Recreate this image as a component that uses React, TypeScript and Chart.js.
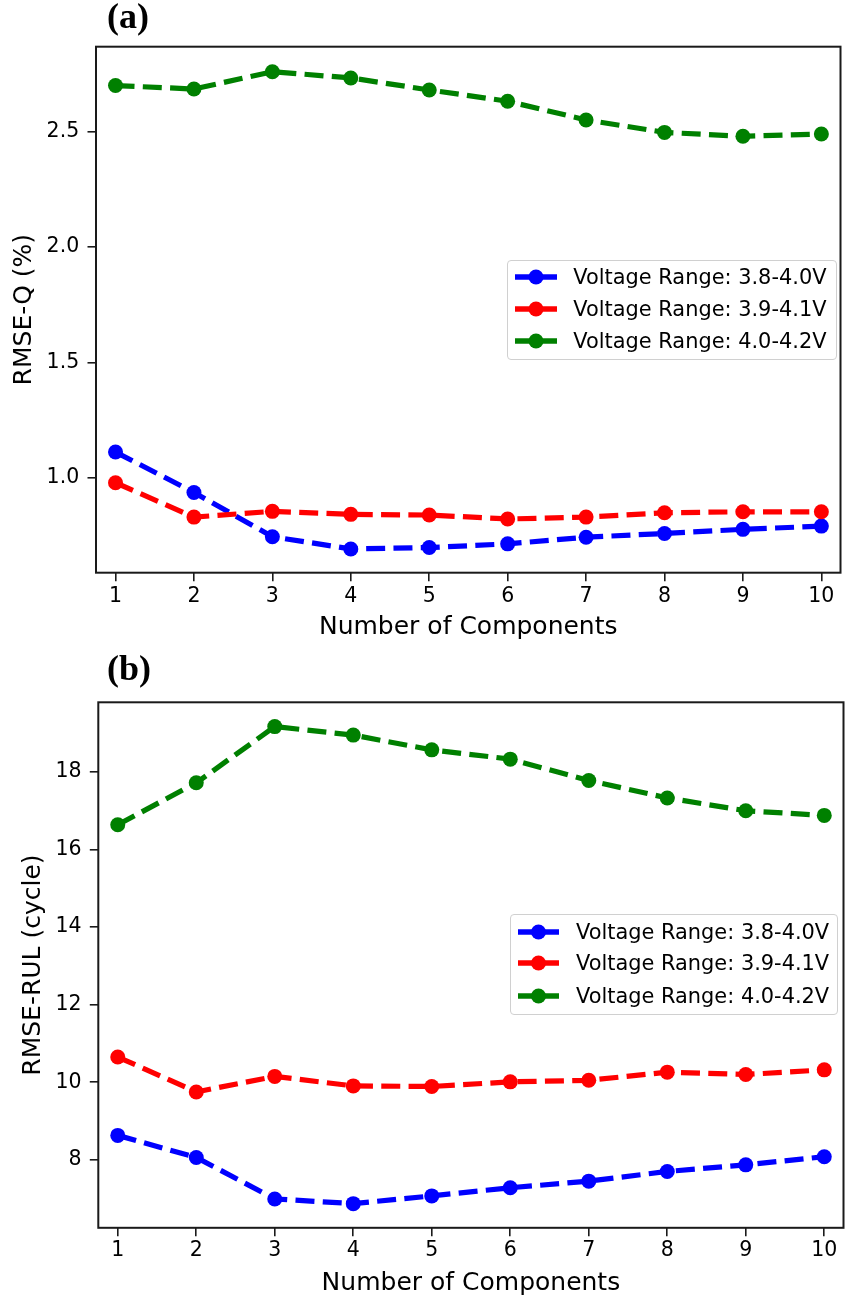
import React, { useEffect, useRef } from "react";
import { Chart, registerables } from "chart.js";

Chart.register(...registerables);

// ---------- data ----------
const components = [1, 2, 3, 4, 5, 6, 7, 8, 9, 10];
const seriesLabels = [
  "Voltage Range: 3.8-4.0V",
  "Voltage Range: 3.9-4.1V",
  "Voltage Range: 4.0-4.2V",
];
const seriesColors = ["#0000ff", "#ff0000", "#008000"];

const rmseQ_38_40 = [1.111, 0.936, 0.744, 0.691, 0.697, 0.713, 0.742, 0.758, 0.776, 0.79];
const rmseQ_39_41 = [0.978, 0.829, 0.854, 0.841, 0.838, 0.821, 0.829, 0.848, 0.852, 0.852];
const rmseQ_40_42 = [2.7, 2.685, 2.76, 2.733, 2.681, 2.632, 2.551, 2.497, 2.48, 2.49];

const rmseRUL_38_40 = [8.63, 8.06, 6.99, 6.87, 7.07, 7.28, 7.45, 7.7, 7.87, 8.08];
const rmseRUL_39_41 = [10.65, 9.75, 10.15, 9.905, 9.89, 10.01, 10.05, 10.26, 10.2, 10.32];
const rmseRUL_40_42 = [16.64, 17.72, 19.17, 18.95, 18.57, 18.33, 17.78, 17.33, 17.0, 16.88];

const xTicks = [1, 2, 3, 4, 5, 6, 7, 8, 9, 10];
const yTicksQ = [1.0, 1.5, 2.0, 2.5];
const yTicksRUL = [8, 10, 12, 14, 16, 18];

const xTitle = "Number of Components";
const yTitleQ = "RMSE-Q (%)";
const yTitleRUL = "RMSE-RUL (cycle)";

// ---------- layout ----------
type PanelSpec = {
  tag: string;
  tagLeft: number;
  tagTop: number;
  canvasTop: number;
  canvasW: number;
  canvasH: number;
  areaLeft: number;
  areaTop: number;
  areaBottom: number;
  areaRight: number;
  xMin: number;
  xMax: number;
  yMin: number;
  yMax: number;
  yTicks: number[];
  yDecimals: number;
  yTitle: string;
  yTitleCenter: number;
  xTitleCenter: number;
  xTickCenter: number;
  yTickRight: number;
  series: number[][];
  legend: { left: number; top: number; right: number; bottom: number; rows: number[]; hx0: number; hx1: number; textX: number };
};

const TICK_LEN = 8.5;
const TICK_FONT = 20.5;
const TITLE_FONT = 25;
const LEGEND_FONT = 20.9;
const FONT = "'DejaVu Sans', sans-serif";

const panels: PanelSpec[] = [
  {
    tag: "(a)",
    tagLeft: 107,
    tagTop: -2,
    canvasTop: 0,
    canvasW: 848,
    canvasH: 650,
    areaLeft: 96,
    areaTop: 46.7,
    areaBottom: 572.7,
    areaRight: 846.7,
    xMin: 0.751,
    xMax: 10.244,
    yMin: 0.588,
    yMax: 2.8685,
    yTicks: yTicksQ,
    yDecimals: 1,
    yTitle: yTitleQ,
    yTitleCenter: 24,
    xTitleCenter: 627,
    xTickCenter: 597,
    yTickRight: 79.2,
    series: [rmseQ_38_40, rmseQ_39_41, rmseQ_40_42],
    legend: { left: 507.3, top: 260, right: 837.3, bottom: 360, rows: [277.3, 309, 340.7], hx0: 515, hx1: 557, textX: 573.3 },
  },
  {
    tag: "(b)",
    tagLeft: 107,
    tagTop: 649.5,
    canvasTop: 650,
    canvasW: 851,
    canvasH: 651,
    areaLeft: 98.3,
    areaTop: 702.3,
    areaBottom: 1227.8,
    areaRight: 849.5,
    xMin: 0.752,
    xMax: 10.245,
    yMin: 6.247,
    yMax: 19.796,
    yTicks: yTicksRUL,
    yDecimals: 0,
    yTitle: yTitleRUL,
    yTitleCenter: 33.5,
    xTitleCenter: 1283.3,
    xTickCenter: 1251,
    yTickRight: 81.5,
    series: [rmseRUL_38_40, rmseRUL_39_41, rmseRUL_40_42],
    legend: { left: 510, top: 914.3, right: 838.3, bottom: 1015, rows: [931.7, 963.3, 995.7], hx0: 518, hx1: 559, textX: 576 },
  },
];

const framePlugin = {
  id: "frame",
  afterDatasetsDraw(chart: any) {
    const { ctx, chartArea } = chart;
    const { left, top, right, bottom } = chartArea;
    ctx.save();
    ctx.strokeStyle = "#1a1a1a";
    ctx.lineWidth = 2;
    ctx.strokeRect(left, top, right - left, bottom - top);
    ctx.restore();
  },
};

function ChartPanel({ p }: { p: PanelSpec }) {
  const ref = useRef<HTMLCanvasElement | null>(null);
  useEffect(() => {
    if (!ref.current) return;
    const titleLH = TITLE_FONT * 1.2;
    const tickLH = TICK_FONT * 1.2;
    const xAxisH = p.canvasH - (p.areaBottom - p.canvasTop);
    const chart = new Chart(ref.current, {
      type: "line",
      data: {
        datasets: p.series.map((vals, i) => ({
          label: seriesLabels[i],
          data: components.map((c, j) => ({ x: c, y: vals[j] })),
          borderColor: seriesColors[i],
          backgroundColor: seriesColors[i],
          pointBackgroundColor: seriesColors[i],
          pointBorderWidth: 0,
          pointRadius: 7.5,
          pointHoverRadius: 7.5,
          borderWidth: 5.2,
          borderDash: [19, 8.3],
          borderCapStyle: "butt",
          borderJoinStyle: "round",
          tension: 0,
          fill: false,
          order: 3 - i,
        })),
      },
      options: {
        responsive: false,
        animation: false,
        events: [],
        layout: {
          padding: {
            top: p.areaTop - p.canvasTop,
            right: p.canvasW - p.areaRight,
            left: 0,
            bottom: 0,
          },
        },
        plugins: {
          legend: { display: false },
          tooltip: { enabled: false },
          title: { display: false },
        },
        scales: {
          x: {
            type: "linear",
            min: p.xMin,
            max: p.xMax,
            bounds: "data",
            afterBuildTicks: (s: any) => {
              s.ticks = xTicks.map((v) => ({ value: v }));
            },
            afterFit: (s: any) => {
              s.height = xAxisH;
            },
            grid: {
              drawOnChartArea: false,
              drawTicks: true,
              tickLength: TICK_LEN,
              color: "#1a1a1a",
              lineWidth: 1.6,
            },
            border: { display: false },
            ticks: {
              autoSkip: false,
              maxRotation: 0,
              padding: p.xTickCenter - p.areaBottom - TICK_LEN - tickLH / 2,
              color: "#000",
              font: { family: FONT, size: TICK_FONT },
              callback: (v: any) => String(v),
            },
            title: {
              display: true,
              text: xTitle,
              color: "#000",
              font: { family: FONT, size: TITLE_FONT },
              padding: { top: 0, bottom: p.canvasTop + p.canvasH - p.xTitleCenter - titleLH / 2 },
            },
          },
          y: {
            type: "linear",
            min: p.yMin,
            max: p.yMax,
            bounds: "data",
            afterBuildTicks: (s: any) => {
              s.ticks = p.yTicks.map((v) => ({ value: v }));
            },
            afterFit: (s: any) => {
              s.width = p.areaLeft;
            },
            grid: {
              drawOnChartArea: false,
              drawTicks: true,
              tickLength: TICK_LEN,
              color: "#1a1a1a",
              lineWidth: 1.6,
            },
            border: { display: false },
            ticks: {
              autoSkip: false,
              padding: p.areaLeft - TICK_LEN - p.yTickRight,
              color: "#000",
              font: { family: FONT, size: TICK_FONT },
              callback: (v: any) => Number(v).toFixed(p.yDecimals),
            },
            title: {
              display: true,
              text: p.yTitle,
              color: "#000",
              font: { family: FONT, size: TITLE_FONT },
              padding: { top: p.yTitleCenter - titleLH / 2, bottom: 0 },
            },
          },
        },
      },
      plugins: [framePlugin],
    } as any);
    return () => chart.destroy();
  }, [p]);

  return (
    <canvas
      ref={ref}
      width={p.canvasW}
      height={p.canvasH}
      style={{ position: "absolute", left: 0, top: p.canvasTop, width: p.canvasW, height: p.canvasH }}
    />
  );
}

function LegendBox({ p }: { p: PanelSpec }) {
  const L = p.legend;
  const rowH = 30;
  return (
    <>
      <div
        style={{
          position: "absolute",
          left: L.left,
          top: L.top,
          width: L.right - L.left,
          height: L.bottom - L.top,
          boxSizing: "border-box",
          border: "1.5px solid #d0d0d0",
          borderRadius: 4,
          background: "rgba(255,255,255,0.8)",
        }}
      />
      {seriesLabels.map((lab, i) => (
        <React.Fragment key={lab}>
          <svg
            width={L.hx1 - L.hx0}
            height={20}
            style={{ position: "absolute", left: L.hx0, top: L.rows[i] - 10 }}
          >
            <line x1={0} y1={10} x2={L.hx1 - L.hx0} y2={10} stroke={seriesColors[i]} strokeWidth={5.5} />
            <circle cx={(L.hx1 - L.hx0) / 2} cy={10} r={7.5} fill={seriesColors[i]} />
          </svg>
          <div
            style={{
              position: "absolute",
              left: L.textX,
              top: L.rows[i] - rowH / 2,
              height: rowH,
              lineHeight: rowH + "px",
              fontFamily: FONT,
              fontSize: LEGEND_FONT,
              color: "#000",
              whiteSpace: "nowrap",
            }}
          >
            {lab}
          </div>
        </React.Fragment>
      ))}
    </>
  );
}

export default function App() {
  return (
    <div
      style={{
        position: "absolute",
        left: 0,
        top: 0,
        width: 848,
        height: 1301,
        overflow: "hidden",
        background: "#fff",
      }}
    >
      {panels.map((p) => (
        <React.Fragment key={p.tag}>
          <ChartPanel p={p} />
          <LegendBox p={p} />
          <div
            style={{
              position: "absolute",
              left: p.tagLeft,
              top: p.tagTop,
              fontFamily: "'Liberation Serif', 'Times New Roman', serif",
              fontWeight: "bold",
              fontSize: 36,
              lineHeight: "36px",
              color: "#000",
              whiteSpace: "nowrap",
            }}
          >
            {p.tag}
          </div>
        </React.Fragment>
      ))}
    </div>
  );
}
